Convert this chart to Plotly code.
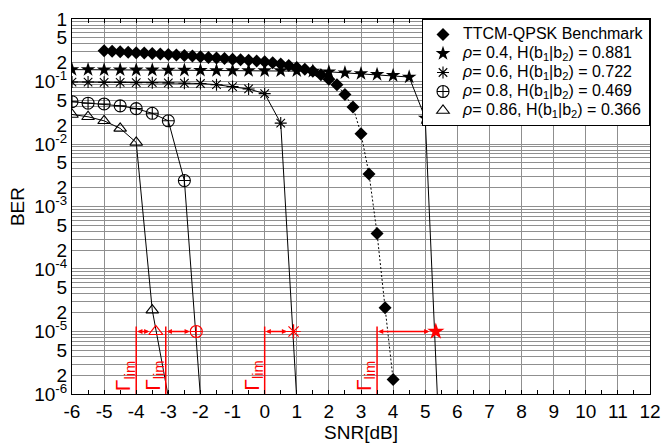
import math
import plotly.graph_objects as go

# --- BER curves (SNR in dB) ---
ttcm_snr = [-5.0, -4.75, -4.5, -4.25, -4.0, -3.75, -3.5, -3.25, -3.0, -2.75,
            -2.5, -2.25, -2.0, -1.75, -1.5, -1.25, -1.0, -0.75, -0.5, -0.25,
            0.0, 0.25, 0.5, 0.75, 1.0, 1.25, 1.5, 1.75, 2.0, 2.25,
            2.5, 2.75, 3.0, 3.25, 3.5, 3.75, 4.0]
ttcm_ber = [0.31, 0.305, 0.30, 0.295, 0.29, 0.285, 0.28, 0.275, 0.27, 0.265,
            0.26, 0.255, 0.248, 0.243, 0.238, 0.233, 0.228, 0.223, 0.218, 0.213,
            0.207, 0.20, 0.19, 0.18, 0.168, 0.157, 0.146, 0.128, 0.109, 0.089,
            0.062, 0.039, 0.0146, 0.0033, 3.7e-4, 2.4e-5, 1.7e-6]

rho04_snr = [-6.0, -5.5, -5.0, -4.5, -4.0, -3.5, -3.0, -2.5, -2.0, -1.5, -1.0,
             -0.5, 0.0, 0.5, 1.0, 1.5, 2.0, 2.5, 3.0, 3.5, 4.0, 4.5, 5.0, 5.5]
rho04_ber = [0.155, 0.155, 0.154, 0.154, 0.153, 0.153, 0.152, 0.152, 0.151, 0.15, 0.15,
             0.15, 0.149, 0.149, 0.148, 0.146, 0.143, 0.138, 0.134, 0.13, 0.125, 0.118,
             0.026, 3.5e-8]

rho06_snr = [-6.0, -5.5, -5.0, -4.5, -4.0, -3.5, -3.0, -2.5, -2.0, -1.5, -1.0,
             -0.5, 0.0, 0.5, 1.0]
rho06_ber = [0.098, 0.098, 0.097, 0.097, 0.096, 0.096, 0.095, 0.094, 0.093, 0.089, 0.083,
             0.076, 0.064, 0.0216, 8e-7]

rho08_snr = [-6.0, -5.5, -5.0, -4.5, -4.0, -3.5, -3.0, -2.5, -2.0]
rho08_ber = [0.0475, 0.045, 0.0437, 0.0408, 0.0368, 0.031, 0.0235, 0.0026, 9e-7]

rho086_snr = [-6.0, -5.5, -5.0, -4.5, -4.0, -3.5, -3.0]
rho086_ber = [0.0297, 0.0273, 0.0235, 0.0178, 0.0106, 2.2e-5, 9e-7]

# --- capacity limits and the SNR at which each curve reaches the target BER ---
target_ber = 1e-5
limit_snr = [-4.0, -3.08, 0.0, 3.5]
limit_top = 1.2e-5
reach_snr = [-3.39, -2.13, 0.9, 5.33]
reach_symbol = ["triangle-up-open", "circle-cross-open", "asterisk-open", "star"]

legend_names = [
    "TTCM-QPSK Benchmark",
    "<i>ρ</i>= 0.4, H(b<sub>1</sub>|b<sub>2</sub>) = 0.881",
    "<i>ρ</i>= 0.6, H(b<sub>1</sub>|b<sub>2</sub>) = 0.722",
    "<i>ρ</i>= 0.8, H(b<sub>1</sub>|b<sub>2</sub>) = 0.469",
    "<i>ρ</i>= 0.86, H(b<sub>1</sub>|b<sub>2</sub>) = 0.366",
]

# --- axis ticks ---
x_ticks = list(range(-6, 13))
y_tickvals = []
y_ticktext = []
for e in range(0, -7, -1):
    for m in range(1, 10):
        v = m * 10.0 ** e
        if v > 1.0 + 1e-12 or v < 1e-6 - 1e-18:
            continue
        if m == 1:
            y_ticktext.append("1" if e == 0 else f"10<sup>{e}</sup>")
        elif m in (2, 5):
            y_ticktext.append(str(m))
        else:
            y_ticktext.append("")
        y_tickvals.append(v)

BLACK = "black"
RED = "#ff0000"
GRID = "#8f8f8f"

series = [
    (ttcm_snr, ttcm_ber, "diamond", 10, "2px,2px", True),
    (rho04_snr, rho04_ber, "star", 11, "solid", True),
    (rho06_snr, rho06_ber, "asterisk-open", 10, "solid", False),
    (rho08_snr, rho08_ber, "circle-cross-open", 12, "solid", False),
    (rho086_snr, rho086_ber, "triangle-up-open", 11, "solid", False),
]

fig = go.Figure()

for (xs, ys, sym, size, dash, filled), name in zip(series, legend_names):
    marker = dict(symbol=sym, size=size, color=BLACK,
                  line=dict(color=BLACK, width=0 if filled else 1.1))
    fig.add_trace(go.Scatter(
        x=xs, y=ys, mode="lines+markers", showlegend=False,
        line=dict(color=BLACK, width=1, dash=dash),
        marker=marker, cliponaxis=True,
    ))
    # marker-only entry for the legend (compact rows, text kept at 16px)
    fig.add_trace(go.Scatter(
        x=[None], y=[None], mode="markers", marker=marker,
        name=f"<span style='font-size:16px'>{name}</span>",
    ))

# red vertical limit lines
for xl in limit_snr:
    fig.add_trace(go.Scatter(
        x=[xl, xl], y=[1e-6, limit_top], mode="lines", showlegend=False,
        line=dict(color=RED, width=1.5),
    ))

# red markers at the target BER
for xr, sym in zip(reach_snr, reach_symbol):
    filled = sym == "star"
    fig.add_trace(go.Scatter(
        x=[xr], y=[target_ber], mode="markers", showlegend=False,
        marker=dict(symbol=sym, size=13 if filled else 12, color=RED,
                    line=dict(color=RED, width=0 if filled else 1.2)),
        cliponaxis=False,
    ))

annotations = []
ly = math.log10(target_ber)
for xl, xr in zip(limit_snr, reach_snr):
    annotations.append(dict(
        x=xl, y=ly, ax=xr, ay=ly, xref="x", yref="y", axref="x", ayref="y",
        text="", showarrow=True, arrowside="end+start", arrowhead=2,
        arrowsize=0.8, arrowwidth=1.3, arrowcolor=RED,
        standoff=1, startstandoff=5,
    ))
    annotations.append(dict(
        x=xl, y=-6, xref="x", yref="y", text="Γ<sub>lim</sub>",
        showarrow=False, textangle=-90, xanchor="right", yanchor="bottom",
        xshift=3, yshift=1, font=dict(color=RED, size=21),
    ))

fig.update_layout(
    width=670, height=446,
    margin=dict(l=72, r=12, t=9, b=47),
    paper_bgcolor="white", plot_bgcolor="white",
    font=dict(family="Arial, Liberation Sans, sans-serif", size=19, color=BLACK),
    annotations=annotations,
    legend=dict(
        x=1, y=1, xanchor="right", yanchor="top",
        bgcolor="white", bordercolor=BLACK, borderwidth=1,
        font=dict(size=11), itemwidth=30, tracegroupgap=0,
    ),
    xaxis=dict(
        range=[-6, 12], tickvals=x_ticks, ticktext=[str(t) for t in x_ticks],
        tickfont=dict(size=19), ticklabeloverflow="allow",
        showgrid=True, gridcolor=GRID, gridwidth=1,
        showline=True, linecolor=BLACK, linewidth=1, mirror="ticks",
        ticks="inside", ticklen=4, tickcolor=BLACK,
        minor=dict(dtick=0.5, ticks="inside", ticklen=4, tickcolor=BLACK, showgrid=False),
        zeroline=False,
        title=dict(text="SNR[dB]", font=dict(size=19), standoff=2),
    ),
    yaxis=dict(
        type="log", range=[-6.0005, 0.0005],
        tickvals=y_tickvals, ticktext=y_ticktext, tickfont=dict(size=19),
        ticklabeloverflow="allow",
        showgrid=True, gridcolor=GRID, gridwidth=1,
        showline=True, linecolor=BLACK, linewidth=1, mirror=True,
        ticks="", zeroline=False,
        title=dict(text="BER", font=dict(size=19), standoff=4),
    ),
)

fig.write_html("out.html")
